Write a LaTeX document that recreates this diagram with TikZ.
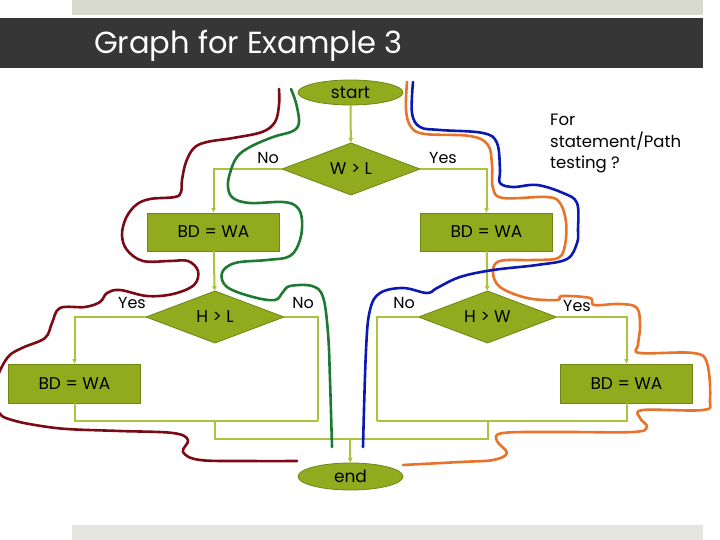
\documentclass[tikz,border=0pt]{standalone}
\usepackage{fontspec}
\setmainfont{Poppins}
\usetikzlibrary{shapes.geometric,arrows.meta}
\definecolor{nodefill}{HTML}{92AA1E}
\definecolor{nodeline}{HTML}{6E8614}
\definecolor{conncol}{HTML}{AAC23E}
\definecolor{darkbar}{HTML}{363636}
\definecolor{topbar}{HTML}{D8D9CE}
\definecolor{botbar}{HTML}{E4E5DF}
\definecolor{cmaroon}{HTML}{7A0A14}
\definecolor{cgreen}{HTML}{1E7A32}
\definecolor{corange}{HTML}{E8732A}
\definecolor{cblue}{HTML}{0A18B4}
\tikzset{
  nodefont/.style={font=\fontsize{17}{20}\selectfont},
  termnode/.style={ellipse,draw=nodeline,fill=nodefill,line width=0.8pt,minimum width=105pt,minimum height=25pt,inner sep=0pt,outer sep=0pt,nodefont},
  decnode/.style={diamond,draw=nodeline,fill=nodefill,line width=0.8pt,minimum width=138pt,minimum height=52pt,aspect=2.65,inner sep=0pt,outer sep=0pt,nodefont},
  procnode/.style={rectangle,draw=nodeline,fill=nodefill,line width=0.8pt,minimum width=132pt,minimum height=38pt,inner sep=0pt,outer sep=0pt,nodefont},
  lbl/.style={inner sep=0pt,font=\fontsize{16}{19}\selectfont},
  conn/.style={draw=conncol,line width=2pt},
  arr/.style={conn,-{Latex[length=5pt,width=5pt]}},
  pen/.style={line width=2.6pt,line cap=round,line join=round}
}
\begin{document}
\begin{tikzpicture}[x=1pt,y=-1pt]
\useasboundingbox (0,0) rectangle (720,540);
% bars
\fill[topbar] (72,0) rectangle (703,15);
\fill[darkbar] (0,18) rectangle (703,68);
\fill[botbar] (72,525) rectangle (703,540);
\node[anchor=base west,inner sep=0pt,text=white,font=\fontsize{30.5}{36}\selectfont] (title) at (94,54) {Graph for Example 3};

% junction points of the connectors
\coordinate (jl) at (318,421);
\coordinate (jr) at (377,421);
\coordinate (ml) at (215,421);
\coordinate (mr) at (488,421);
\coordinate (m) at (350,439);

% nodes
\node[termnode] (start) at (350.5,92.5) {start};
\node[decnode] (d1) at (351,169) {W > L};
\node[procnode] (b1) at (213.5,232) {BD = WA};
\node[procnode] (b2) at (486.5,232) {BD = WA};
\node[decnode] (d2) at (215,317) {H > L};
\node[decnode] (d3) at (487.5,317) {H > W};
\node[procnode,minimum height=39pt] (b3) at (74.5,383.5) {BD = WA};
\node[procnode,minimum height=39pt] (b4) at (626.5,383.5) {BD = WA};
\node[termnode,minimum height=27pt] (end) at (350.5,476.5) {end};

\draw[arr] (start) -- (d1);
\draw[arr] (d1.west) -| (b1.north);
\draw[arr] (d1.east) -| (b2.north);
\draw[arr] (b1) -- (d2);
\draw[arr] (b2) -- (d3);
\draw[arr] (d2.west) -| (b3.north);
\draw[arr] (d3.east) -| (b4.north);
\draw[conn] (d2.east) -| (jl);
\draw[conn] (b3.south) |- (jl);
\draw[conn] (d3.west) -| (jr);
\draw[conn] (b4.south) |- (jr);
\draw[conn] (ml) |- (m);
\draw[conn] (mr) |- (m);
\draw[arr] (m) -- (end);

% labels
\node[lbl] (l1) at (268,158) {No};
\node[lbl] (l2) at (443,158) {Yes};
\node[lbl] (l3) at (132,303) {Yes};
\node[lbl] (l4) at (303,303) {No};
\node[lbl] (l5) at (404,303) {No};
\node[lbl] (l6) at (577,306) {Yes};
\node[anchor=north west,inner sep=0pt,align=left,font=\fontsize{16.5}{21.5}\selectfont] (note) at (550,114) {For\\statement/Path\\testing ?};

% freehand paths
\draw[pen,cmaroon] plot[smooth,tension=0.6] coordinates {
 (279,89) (279,105) (275,122) (262,132) (233,138) (207,142) (194,148) (186,162)
 (182,180) (181,192) (175,197) (150,199) (136,205) (126,218) (122,235) (127,250)
 (143,261) (170,261) (188,261) (198,271) (194,285) (173,294) (147,296) (120,290)
 (107,293) (100,302) (85,307) (60,308) (52,323) (45,338) (22,348) (8,357) (-3,378)
 (-6,398) (0,414) (12,420) (35,425) (67,429) (120,431) (173,433) (188,440) (183,452)
 (200,460) (250,461) (297,461)};
\draw[pen,cgreen] plot[smooth,tension=0.6] coordinates {
 (291,89) (296,103) (299,122) (293,131) (273,137) (250,147) (237,157) (230,173)
 (228,187) (233,198) (250,203) (283,202) (297,207) (302,220) (300,240) (290,256)
 (267,260) (235,263) (222,273) (227,287) (253,297) (275,300) (283,292) (290,286)
 (312,286) (323,297) (328,333) (330,380) (332,447)};
\draw[pen,corange] plot[smooth,tension=0.6] coordinates {
 (407,82) (406,110) (411,127) (425,134) (470,136) (488,145) (492,165) (493,188)
 (503,198) (547,197) (560,203) (566,222) (565,245) (558,258) (533,260) (500,261)
 (493,272) (500,287) (527,298) (557,300) (562,296) (590,298) (594,305) (620,304)
 (637,308) (640,327) (638,345) (640,353) (693,353) (707,363) (710,400) (703,410)
 (643,410) (640,418) (647,427) (633,432) (560,432) (503,433) (497,441) (507,453)
 (493,460) (460,462) (403,465)};
\draw[pen,cblue] plot[smooth,tension=0.6] coordinates {
 (413,82) (412,113) (420,127) (440,130) (483,133) (497,143) (500,170) (500,183)
 (513,187) (537,185) (563,193) (577,203) (578,230) (577,243) (567,259) (537,265)
 (493,270) (460,277) (437,288) (427,293) (403,288) (380,293) (370,310) (366,350)
 (363,447)};
\end{tikzpicture}
\end{document}
